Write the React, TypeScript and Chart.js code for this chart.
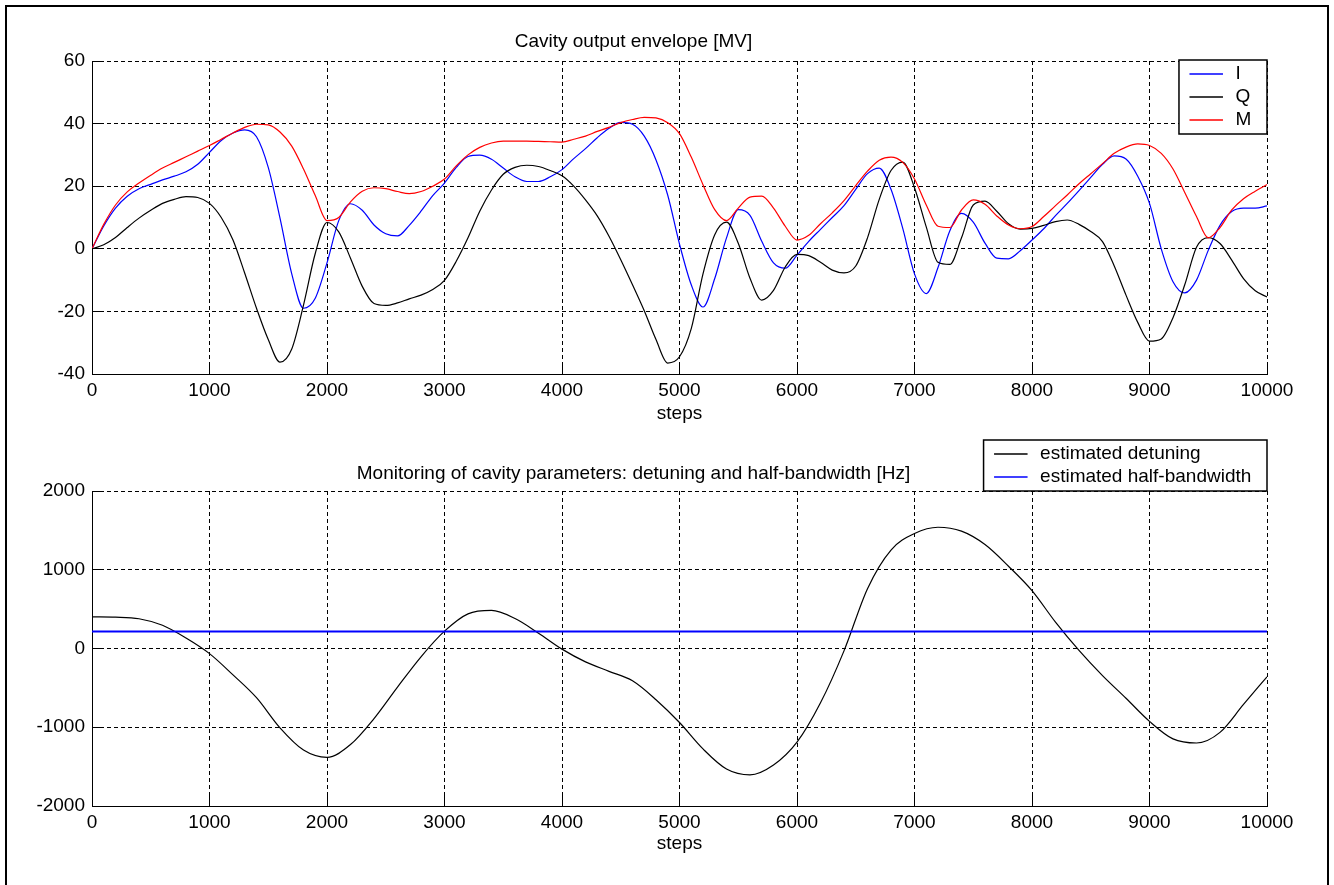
import { useEffect, useRef } from "react";
import { Chart, registerables } from "chart.js";

Chart.register(...registerables);

const FONT_FAMILY = '"Liberation Sans", Arial, Helvetica, sans-serif';
const FONT_SIZE = 19;

// Envelope traces, sampled every 100 steps
const envelopeSteps = Array.from({ length: 101 }, (_, k) => k * 100);

const iValues = [
  0, 7.3, 13, 16.8, 19.2, 20.6, 22, 23.2, 24.6, 27, 30.8,
  34.6, 37, 38, 35.8, 26, 9.8, -8, -19, -15.8, -4.5,
  9, 14.4, 12.3, 7.6, 4.8, 4.1, 7.5, 12, 17, 21,
  26, 29.5, 29.9, 28.6, 25.8, 23, 21.5, 21.5, 23, 25.3,
  28.8, 32, 35.5, 38.5, 40.4, 39.8, 36, 28.4, 17.1, 1.5,
  -11.5, -18.6, -9.5, 3.5, 12.5, 10.7, 2.4, -4.5, -6.2, -2,
  2.4, 6.2, 10, 13.8, 19, 24, 25.8, 19, 6.5, -8,
  -14.3, -6, 5.7, 11.3, 8.5, 1.8, -3, -3.2, -0.6, 2.8,
  6.4, 10.6, 14.5, 18.6, 22.8, 27, 29.7, 28.7, 23.2, 14.5,
  0, -10.5, -14.1, -10, -0.5, 7.5, 11.9, 13, 13, 13.7,
];

const qValues = [
  0, 1.3, 3.6, 6.8, 9.8, 12.3, 14.5, 15.8, 16.7, 16.4, 14.5,
  10, 2.8, -7.8, -19, -29, -36.2, -32, -18, -1.5, 8.4,
  5.4, -3, -12, -17.5, -18.1, -17.3, -16, -14.8, -13, -10.1,
  -4, 3.5, 12, 18.8, 23.8, 26, 26.7, 26.3, 25, 23.3,
  20, 15.6, 10.5, 4, -3.5, -11.5, -19.8, -29, -36.5, -34.5,
  -25.5, -8, 4.5, 8.5, 1.8, -9.4, -16.4, -13.3, -5.8, -1.8,
  -2.2, -4.3, -6.8, -7.7, -5.5, 3.5, 15.8, 25, 27.7, 19.5,
  7, -4.3, -5, 3.5, 14, 15.2, 12, 8, 6.3, 6.5,
  7.5, 8.7, 9.2, 7.8, 5.5, 2.3, -5.5, -14.8, -23.5, -29.5,
  -28.8, -22, -11.5, 0.5, 3.6, 1.7, -3.6, -9.5, -13.4, -15.4,
];

const mValues = [
  0, 7.8, 14, 18.2, 21, 23.5, 25.8, 27.6, 29.4, 31.2, 33,
  35, 37, 38.8, 39.8, 39.6, 37.3, 32.8, 25.5, 17, 9,
  10, 15, 18.4, 19.5, 19.2, 18.3, 17.6, 18.3, 20, 22.3,
  26.5, 30, 32.4, 33.8, 34.4, 34.4, 34.4, 34.3, 34.2, 34.1,
  35, 36, 37.5, 38.8, 40.3, 41.3, 42, 41.8, 40.3, 36.8,
  29.3, 20.5, 12.5, 9, 13, 16.5, 16.8, 13, 7.2, 2.8,
  4.3, 8, 11.5, 15.4, 20.2, 24.8, 28.3, 29.3, 27.6, 22.3,
  14, 7.2, 6.8, 12.4, 15.6, 14.2, 10.5, 7.6, 6.4, 7.1,
  10.3, 13.8, 17.2, 20.8, 24, 27.2, 30.5, 32.5, 33.5, 33,
  30.5, 25.5, 18, 10.3, 3.5, 6.8, 12.4, 16, 18.4, 20.5,
];

// Estimated detuning, sampled every 200 steps
const detuningSteps = Array.from({ length: 51 }, (_, k) => k * 200);
const detuningHz = [
  402, 398, 378, 295, 133, -65, -335, -625, -1008, -1290, -1382,
  -1220, -890, -490, -105, 220, 440, 483, 380, 195, -8,
  -170, -290, -410, -650, -940, -1275, -1530, -1605, -1480, -1190,
  -690, -30, 760, 1250, 1460, 1540, 1490, 1320, 1045, 735,
  335, -25, -345, -632, -925, -1148, -1200, -1065, -710, -359,
];

// Estimated half-bandwidth (constant)
const halfBandwidthSteps = [0, 10000];
const halfBandwidthHz = [215, 215];

const stepTicks = [0, 1000, 2000, 3000, 4000, 5000, 6000, 7000, 8000, 9000, 10000];
const envelopeTicks = [-40, -20, 0, 20, 40, 60];
const detuningTicks = [-2000, -1000, 0, 1000, 2000];

const BLUE = "#0000ff";
const RED = "#ff0000";
const BLACK = "#000000";

const axisFont = { family: FONT_FAMILY, size: FONT_SIZE, lineHeight: 1.2 };

const alignPx = (p: number) => Math.round(p - 0.5) + 0.5;

// Short solid tick marks pointing into the plot from the left and bottom axes
const innerTicks = {
  id: "innerTicks",
  afterDatasetsDraw(chart: any, _args: any, opts: any) {
    const len = opts?.length ?? 11;
    const { ctx, chartArea } = chart;
    const xs = chart.scales.x;
    const ys = chart.scales.y;
    ctx.save();
    ctx.strokeStyle = BLACK;
    ctx.lineWidth = 1;
    ctx.setLineDash([]);
    ctx.beginPath();
    xs.ticks.forEach((t: any) => {
      const px = alignPx(xs.getPixelForValue(t.value));
      ctx.moveTo(px, chartArea.bottom);
      ctx.lineTo(px, chartArea.bottom - len);
    });
    ys.ticks.forEach((t: any) => {
      const py = alignPx(ys.getPixelForValue(t.value));
      ctx.moveTo(chartArea.left, py);
      ctx.lineTo(chartArea.left + len, py);
    });
    ctx.stroke();
    ctx.restore();
  },
};

// Boxed legend anchored to the top-right corner of the plot
const boxLegend = {
  id: "boxLegend",
  afterDraw(chart: any, _args: any, opts: any) {
    if (!opts || !opts.display) return;
    const { ctx, chartArea } = chart;
    const items = chart.data.datasets.map((d: any) => ({ text: d.label, color: d.borderColor }));
    const padLeft = 10.5;
    const lineLen = 33.5;
    const gap = 12.5;
    const padRight = 15.7;
    const rowH = 23;
    const padTop = 2;
    const padBottom = 3;
    ctx.save();
    ctx.font = `${FONT_SIZE}px ${FONT_FAMILY}`;
    const textW = Math.max(...items.map((i: any) => ctx.measureText(i.text).width));
    const w = padLeft + lineLen + gap + textW + padRight;
    const h = padTop + items.length * rowH + padBottom;
    const right = chartArea.right;
    const top = opts.place === "above" ? chartArea.top - h : chartArea.top - 1;
    const left = right - w;
    ctx.fillStyle = "#ffffff";
    ctx.fillRect(left, top, w, h);
    ctx.strokeStyle = BLACK;
    ctx.lineWidth = 1.5;
    ctx.strokeRect(left, top, w, h);
    items.forEach((it: any, k: number) => {
      const cy = top + padTop + rowH * (k + 0.5);
      ctx.strokeStyle = it.color;
      ctx.lineWidth = 1.5;
      ctx.beginPath();
      ctx.moveTo(left + padLeft, Math.round(cy));
      ctx.lineTo(left + padLeft + lineLen, Math.round(cy));
      ctx.stroke();
      ctx.fillStyle = BLACK;
      ctx.textAlign = "left";
      ctx.textBaseline = "middle";
      ctx.fillText(it.text, left + padLeft + lineLen + gap, cy);
    });
    ctx.restore();
  },
};

function xAxis(height: number, titlePadBottom: number) {
  return {
    type: "linear",
    min: stepTicks[0],
    max: stepTicks[stepTicks.length - 1],
    afterBuildTicks: (s: any) => {
      s.ticks = stepTicks.map((v) => ({ value: v }));
    },
    ticks: {
      padding: 5,
      color: BLACK,
      font: axisFont,
      maxRotation: 0,
      autoSkip: false,
      callback: (v: any) => String(v),
    },
    grid: { color: BLACK, lineWidth: 1, drawTicks: false },
    border: { display: true, color: BLACK, width: 1, dash: [4, 3] },
    title: {
      display: true,
      text: "steps",
      color: BLACK,
      font: axisFont,
      padding: { top: 0, bottom: titlePadBottom },
    },
    afterFit: (s: any) => {
      s.height = height;
    },
  };
}

function yAxis(tickValues: number[]) {
  return {
    type: "linear",
    min: tickValues[0],
    max: tickValues[tickValues.length - 1],
    afterBuildTicks: (s: any) => {
      s.ticks = tickValues.map((v) => ({ value: v }));
    },
    ticks: {
      padding: 7,
      color: BLACK,
      font: axisFont,
      autoSkip: false,
      callback: (v: any) => String(v),
    },
    grid: { color: BLACK, lineWidth: 1, drawTicks: false },
    border: { display: true, color: BLACK, width: 1, dash: [4, 3] },
    afterFit: (s: any) => {
      s.width = 92;
    },
  };
}

function lineSet(
  label: string,
  xs: number[],
  ys: number[],
  color: string,
  order: number,
  width = 1.2
) {
  return {
    label,
    data: xs.map((x, k) => ({ x, y: ys[k] })),
    borderColor: color,
    backgroundColor: color,
    borderWidth: width,
    pointRadius: 0,
    fill: false,
    cubicInterpolationMode: "monotone",
    order,
  };
}

function envelopeConfig(): any {
  return {
    type: "line",
    data: {
      datasets: [
        lineSet("I", envelopeSteps, iValues, BLUE, 2),
        lineSet("Q", envelopeSteps, qValues, BLACK, 1),
        lineSet("M", envelopeSteps, mValues, RED, 0),
      ],
    },
    options: {
      animation: false,
      responsive: false,
      devicePixelRatio: 1,
      layout: { padding: { left: 0, right: 67, top: 0, bottom: 0 } },
      scales: { x: xAxis(56, 5), y: yAxis(envelopeTicks) },
      plugins: {
        legend: { display: false },
        tooltip: { enabled: false },
        title: {
          display: true,
          text: "Cavity output envelope [MV]",
          color: BLACK,
          font: { family: FONT_FAMILY, size: FONT_SIZE, weight: "normal", lineHeight: 1.2 },
          padding: { top: 30, bottom: 8.2 },
        },
        boxLegend: { display: true, place: "inside" },
        innerTicks: { length: 11 },
      },
    },
    plugins: [innerTicks, boxLegend],
  };
}

function detuningConfig(): any {
  return {
    type: "line",
    data: {
      datasets: [
        lineSet("estimated detuning", detuningSteps, detuningHz, BLACK, 1),
        lineSet("estimated half-bandwidth", halfBandwidthSteps, halfBandwidthHz, BLUE, 0, 2),
      ],
    },
    options: {
      animation: false,
      responsive: false,
      devicePixelRatio: 1,
      layout: { padding: { left: 0, right: 67, top: 0, bottom: 0 } },
      scales: { x: xAxis(79, 29.5), y: yAxis(detuningTicks) },
      plugins: {
        legend: { display: false },
        tooltip: { enabled: false },
        title: {
          display: true,
          text: "Monitoring of cavity parameters: detuning and half-bandwidth [Hz]",
          color: BLACK,
          font: { family: FONT_FAMILY, size: FONT_SIZE, weight: "normal", lineHeight: 1.2 },
          padding: { top: 32, bottom: 6.2 },
        },
        boxLegend: { display: true, place: "above" },
        innerTicks: { length: 11 },
      },
    },
    plugins: [innerTicks, boxLegend],
  };
}

export default function App() {
  const topRef = useRef<HTMLCanvasElement>(null);
  const bottomRef = useRef<HTMLCanvasElement>(null);

  useEffect(() => {
    const top = new Chart(topRef.current!, envelopeConfig());
    const bottom = new Chart(bottomRef.current!, detuningConfig());
    return () => {
      top.destroy();
      bottom.destroy();
    };
  }, []);

  return (
    <div
      style={{
        position: "fixed",
        left: 0,
        top: 0,
        width: 1334,
        height: 885,
        background: "#ffffff",
        overflow: "hidden",
      }}
    >
      <div
        style={{
          position: "absolute",
          left: 5,
          top: 5,
          width: 1320,
          height: 900,
          border: "2px solid #000",
        }}
      />
      <canvas
        ref={topRef}
        width={1334}
        height={430}
        style={{ position: "absolute", left: 0, top: 0, width: 1334, height: 430 }}
      />
      <canvas
        ref={bottomRef}
        width={1334}
        height={455}
        style={{ position: "absolute", left: 0, top: 430, width: 1334, height: 455 }}
      />
    </div>
  );
}
